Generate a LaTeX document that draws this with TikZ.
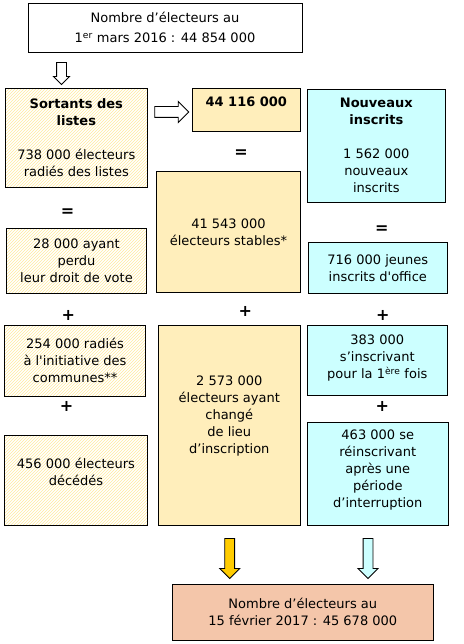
\documentclass[tikz,border=0pt]{standalone}
\usepackage{fontspec}
\setmainfont{DejaVu Sans}
\usetikzlibrary{shapes.arrows,patterns}
\definecolor{hatchline}{HTML}{FFEA9E}
\definecolor{stabfill}{HTML}{FFEEBB}
\definecolor{newfill}{HTML}{CCFFFF}
\definecolor{endfill}{HTML}{F4C6AA}
\definecolor{goldfill}{HTML}{FFCC00}

\begin{document}
\begin{tikzpicture}[x=1pt,y=-1pt,font=\fontsize{13}{17}\selectfont,
    box/.style={draw,line width=.9pt,inner sep=0},
    plainbox/.style={},
    hatchbox/.style={pattern=north east lines,pattern color=hatchline},
    stablebox/.style={fill=stabfill},
    newbox/.style={fill=newfill},
    endbox/.style={fill=endfill},
    txt/.style={align=center,inner sep=0},
    op/.style={font=\fontsize{16}{17}\selectfont\bfseries,inner sep=0},
    barrow/.style={single arrow,draw,line width=.9pt,inner sep=4.5,minimum height=#1,single arrow head extend=5}]
    \useasboundingbox (0,0) rectangle (463,644);
    % boxes
    \foreach \n/\x/\y/\w/\h/\s in {top/165/27.5/274/49/plainbox,
        sort/76.3/137.8/142/99/hatchbox, tot/246.3/109.8/108/43/stablebox,
        nouv/376.3/145.8/138.7/113/newbox, stab/228.5/232/143.6/120.6/stablebox,
        perdu/76.5/260.8/140.4/65/hatchbox, jeunes/377.8/267.8/139/51/newbox,
        radies/75/360.8/141.4/71/hatchbox, chg/229.3/425.3/142/200/stablebox,
        prem/377.3/360.2/140/69.7/newbox, deces/76/480.3/143.4/90/hatchbox,
        reins/377.8/474/141/102.6/newbox, fin/302.8/612.2/261/55.7/endbox}
      \node[box,\s,minimum width=\w,minimum height=\h] (\n) at (\x,\y) {};
    % texts
    \node[txt] at (top) {Nombre d’électeurs au\\[3pt]1\textsuperscript{er} mars 2016 : 44 854 000};
    \node[txt] at (sort) {\textbf{Sortants des}\\\textbf{listes}\\[17pt]738 000 électeurs\\radiés des listes};
    \node[txt,yshift=8] at (tot) {\textbf{44 116 000}};
    \node[txt] at (nouv) {\textbf{Nouveaux}\\\textbf{inscrits}\\[17pt]1 562 000\\nouveaux\\inscrits};
    \node[txt] at (stab) {41 543 000\\électeurs stables*};
    \node[txt] at (perdu) {28 000 ayant\\perdu\\leur droit de vote};
    \node[txt] at (jeunes) {716 000 jeunes\\inscrits d\textquotesingle office};
    \node[txt] at (radies) {254 000 radiés\\à l\textquotesingle initiative des\\communes**};
    \node[txt,yshift=9] at (chg) {2 573 000\\électeurs ayant\\changé\\de lieu\\d’inscription};
    \node[txt,yshift=2] at (prem) {383 000\\s’inscrivant\\pour la 1\textsuperscript{ère} fois};
    \node[txt,yshift=8] at (deces) {456 000 électeurs\\décédés};
    \node[txt,yshift=4] at (reins) {463 000 se\\réinscrivant\\après une\\période\\d’interruption};
    \node[txt] at (fin) {Nombre d’électeurs au\\15 février 2017 : 45 678 000};
    % operators
    \foreach \n/\x/\y/\o in {eqa/241/154/=, eqb/67.7/212.7/=, eqc/381.7/230/=,
        pla/68.3/315/+, plb/245.3/311.7/+, plc/382.7/315/+, pld/66.7/406/+, ple/382.3/406/+}
      \node[op] (\n) at (\x,\y) {\o};
    % arrows
    \node[barrow=22,single arrow head extend=3,shape border rotate=270] (ara) at (61.5,71) {};
    \node[barrow=34,inner sep=5,shape border rotate=0] (arb) at (169,112) {};
    \node[barrow=40,shape border rotate=270,fill=goldfill] (arc) at (229.7,556) {};
    \node[barrow=40,shape border rotate=270,fill=newfill] (ard) at (368,556) {};
  \end{tikzpicture}
\end{document}
